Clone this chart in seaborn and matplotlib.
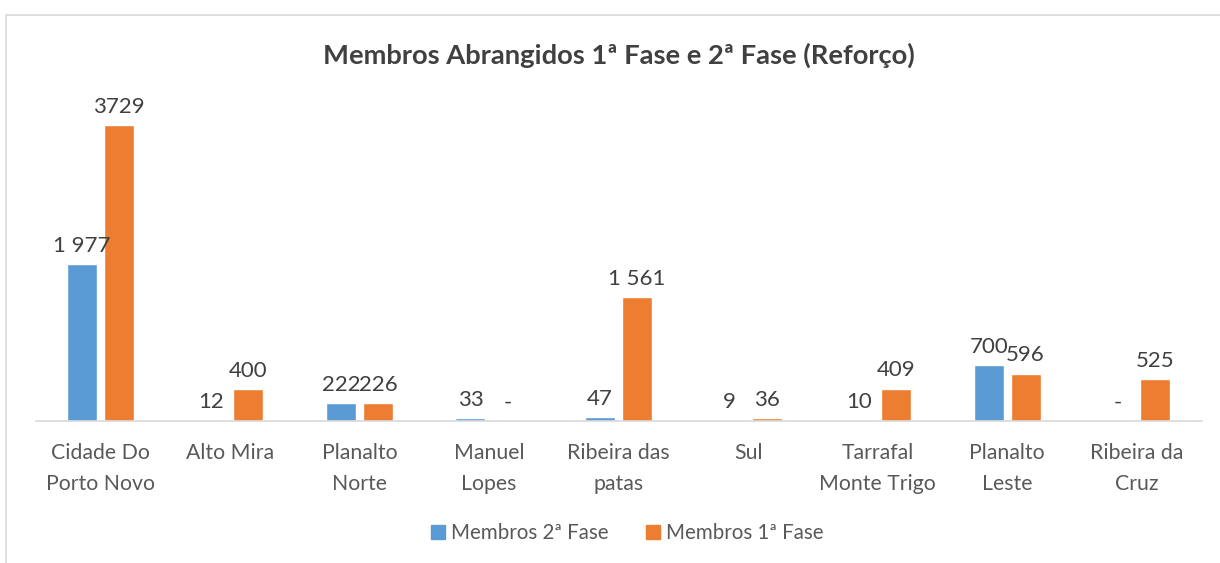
import matplotlib.pyplot as plt
import matplotlib.patches as mpatches
import pandas as pd
import seaborn as sns

# dados
zonas = ["Cidade Do\nPorto Novo", "Alto Mira", "Planalto\nNorte", "Manuel\nLopes",
         "Ribeira das\npatas", "Sul", "Tarrafal\nMonte Trigo", "Planalto\nLeste",
         "Ribeira da\nCruz"]
fase2 = [1977, 12, 222, 33, 47, 9, 10, 700, 0]
fase1 = [3729, 400, 226, 0, 1561, 36, 409, 596, 525]
rotulos2 = ["1 977", "12", "222", "33", "47", "9", "10", "700", "-"]
rotulos1 = ["3729", "400", "226", "-", "1 561", "36", "409", "596", "525"]
series = ["Membros 2ª Fase", "Membros 1ª Fase"]
cores = ["#5B9BD5", "#ED7D31"]

df = pd.DataFrame({
    "zona": zonas * 2,
    "valor": fase2 + fase1,
    "fase": [series[0]] * len(zonas) + [series[1]] * len(zonas),
})

sns.set_style("white")
plt.rcParams['font.family'] = ['Lato', 'DejaVu Sans']

fig = plt.figure(figsize=(12.2, 5.63), dpi=100)
ax = fig.add_axes([35.5 / 1220, 1 - 421 / 563, 1166 / 1220, 317.5 / 563])

sns.barplot(data=df, x="zona", y="valor", hue="fase", hue_order=series,
            palette=cores, width=0.571, gap=0.19, ax=ax, legend=False,
            saturation=1)

# rótulos de dados
for cont, labs in zip(ax.containers, [rotulos2, rotulos1]):
    ax.bar_label(cont, labels=labs, padding=6, fontsize=16, color="#404040")

ax.set_xlim(-0.5, len(zonas) - 0.5)
ax.set_ylim(0, 4000)
ax.set_xlabel("")
ax.set_ylabel("")
ax.set_yticks([])
for s in ["top", "right", "left"]:
    ax.spines[s].set_visible(False)
ax.spines["bottom"].set_color("#D9D9D9")
ax.spines["bottom"].set_linewidth(1.2)
ax.tick_params(axis="x", length=0, pad=16, labelsize=15.3, labelcolor="#595959")
for lbl in ax.get_xticklabels():
    lbl.set_linespacing(1.68)

fig.text(0.507, 1 - 55 / 563, "Membros Abrangidos 1ª Fase e 2ª Fase (Reforço)",
         ha="center", va="center", fontsize=19.7, fontweight="bold", color="#404040")

handles = [mpatches.Patch(color=c, label=s) for c, s in zip(cores, series)]
fig.legend(handles=handles, loc="center", bbox_to_anchor=(0.514, 1 - 533 / 563),
           ncol=2, frameon=False, fontsize=14.8, handlelength=0.7, handleheight=0.7,
           handletextpad=0.3, columnspacing=1.8, labelcolor="#595959")

# moldura do gráfico
fig.patches.append(mpatches.Rectangle((6 / 1220, -0.05), 1.1, 1.05 - 15 / 563,
                                      transform=fig.transFigure, fill=False,
                                      edgecolor="#D9D9D9", linewidth=1.2))

plt.savefig("out.png", dpi=100)
